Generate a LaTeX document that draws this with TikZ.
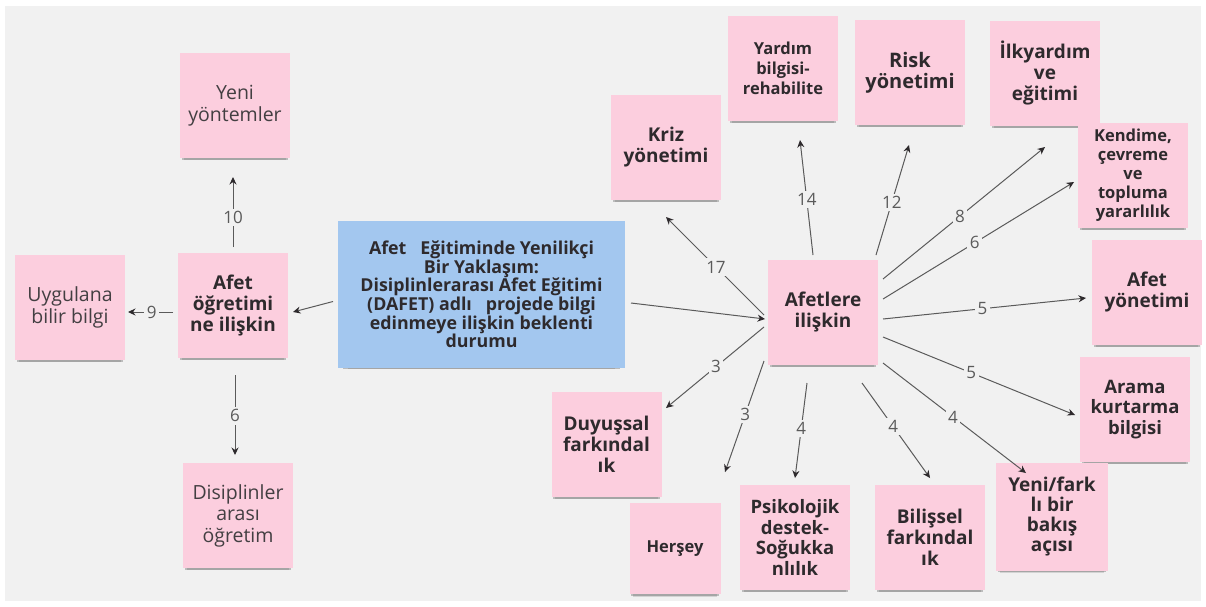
\documentclass[tikz,border=0pt]{standalone}
\usepackage{fontspec}
\setmainfont{Open Sans}
\usetikzlibrary{arrows.meta,calc,shadows,backgrounds}

\definecolor{canvas}{HTML}{F1F1F1}
\definecolor{notepink}{HTML}{FCCEDE}
\definecolor{noteblue}{HTML}{A3C7EF}
\definecolor{ink}{HTML}{2E2A2D}
\definecolor{wire}{HTML}{5A5A5A}

\tikzset{
  note/.style={fill=notepink, minimum width=110pt, minimum height=105pt,
    inner sep=0pt, align=center, text=ink,
    font=\bfseries\fontsize{19}{21}\selectfont,
    general shadow={shadow yshift=-4pt, shadow scale=.965, fill=black, opacity=.22},
    general shadow={shadow yshift=-6.5pt, shadow scale=.93, fill=black, opacity=.12}},
  plain/.style={note, font=\fontsize{19.5}{21.5}\selectfont, text=ink!90},
  small/.style={font=\bfseries\fontsize{16.5}{19}\selectfont},
  link/.style={draw=wire, line width=1pt,
    -{Stealth[length=7.5pt, width=7pt, color=ink]}},
  lbl/.style={fill=canvas, inner sep=2.5pt, text=wire,
    font=\fontsize{17}{17}\selectfont},
}

\begin{document}
\begin{tikzpicture}[x=1pt, y=-1pt]
\useasboundingbox (0,0) rectangle (1206,606);
\fill[white] (0,0) rectangle (1206,606);
\fill[canvas] (5,6) rectangle (1201,601);

% left cluster
\node[plain] (yeni) at (235,105.5) {Yeni\\yöntemler};
\node[note]  (afog) at (233,305.5) {Afet\\öğretimi\\ne ilişkin};
\node[plain] (uyg)  at (70,307.5)  {Uygulana\\bilir bilgi};
\node[plain] (dis)  at (238,515.5) {Disiplinler\\arası\\öğretim};

% central topic
\node[note, fill=noteblue, minimum width=287pt, minimum height=147pt,
      font=\bfseries\fontsize{17.8}{18.6}\selectfont] (topic) at (481.5,294.5)
  {Afet\ \ \ Eğitiminde Yenilikçi\\Bir Yaklaşım:\\Disiplinlerarası Afet Eğitimi\\
   (DAFET) adlı\ \ \ projede bilgi\\edinmeye ilişkin beklenti\\durumu};

% right cluster
\node[note] (afl)  at (823,312.5)  {Afetlere\\ilişkin};
\node[note] (kriz) at (666,147.5)  {Kriz\\yönetimi};
\node[note, font=\bfseries\fontsize{16.5}{20}\selectfont] (yard) at (783,68) {Yardım\\bilgisi-\\rehabilite};
\node[note, font=\bfseries\fontsize{20}{21}\selectfont] (risk) at (910,72.5) {Risk\\yönetimi};
\node[note] (ilk)  at (1045,73)    {İlkyardım\\ve\\eğitimi};
\node[note, small] (kend) at (1133,175) {Kendime,\\çevreme\\ve\\topluma\\yararlılık};
\node[note] (afy)  at (1147,292.5) {Afet\\yönetimi};
\node[note, font=\bfseries\fontsize{18.5}{20.5}\selectfont] (ara) at (1135,409.5) {Arama\\kurtarma\\bilgisi};
\node[note] (duy)  at (606.5,444.5) {Duyuşsal\\farkındal\\ık};
\node[note, minimum width=91pt, minimum height=91pt,
      font=\bfseries\fontsize{16.5}{18}\selectfont] (her) at (675,548.5) {Herşey};
\node[note, font=\bfseries\fontsize{18.5}{20.5}\selectfont] (psi) at (795,537.5) {Psikolojik\\destek-\\Soğukka\\nlılık};
\node[note] (bil)  at (930,537.5)  {Bilişsel\\farkındal\\ık};
\node[note, minimum width=112pt, minimum height=108pt,
      font=\bfseries\fontsize{19}{20.3}\selectfont] (yfb) at (1052,516.5) {Yeni/fark\\lı bir\\bakış\\açısı};

% connectors, left
\draw[link] ($(topic)+(-148.5,7)$) -- ($(afog)+(60,6.5)$);
\draw[link] ($(afog)+(0,-58.5)$) -- node[lbl, pos=.42]{10} ($(yeni)+(-2,71.5)$);
\draw[link] ($(afog)+(-60,6.5)$) -- node[lbl, pos=.47]{9} ($(uyg)+(58,4.5)$);
\draw[link] ($(afog)+(2,69.5)$) -- node[lbl, pos=.51]{6} ($(dis)+(-3,-60.5)$);

% connectors, right
\draw[link] ($(topic)+(149.5,8.5)$) -- ($(afl)+(-58,6.5)$);
\draw[link] ($(afl)+(-59,2.5)$)  -- node[lbl, pos=.49]{17} ($(kriz)+(0,69.5)$);
\draw[link] ($(afl)+(-10,-57.5)$) -- node[lbl, pos=.48]{14} ($(yard)+(17,72)$);
\draw[link] ($(afl)+(53,-57.5)$)  -- node[lbl, pos=.48]{12} ($(risk)+(-1,72.5)$);
\draw[link] ($(afl)+(60,-33.5)$)  -- node[lbl, pos=.475]{8} ($(ilk)+(0,74)$);
\draw[link] ($(afl)+(60,-13.5)$)  -- node[lbl, pos=.48]{6} ($(kend)+(-59,7)$);
\draw[link] ($(afl)+(60,6.5)$)    -- node[lbl, pos=.49]{5} ($(afy)+(-61,5.5)$);
\draw[link] ($(afl)+(60,24.5)$)   -- node[lbl, pos=.46]{5} ($(ara)+(-60,5.5)$);
\draw[link] ($(afl)+(60,50.5)$)   -- node[lbl, pos=.49]{4} ($(yfb)+(-26,-43.5)$);
\draw[link] ($(afl)+(39,70.5)$)   -- node[lbl, pos=.46]{4} ($(bil)+(0,-59.5)$);
\draw[link] ($(afl)+(-16,70.5)$)  -- node[lbl, pos=.48]{4} ($(psi)+(0,-59.5)$);
\draw[link] ($(afl)+(-59,48.5)$)  -- node[lbl, pos=.48]{3} ($(her)+(50,-76.5)$);
\draw[link] ($(afl)+(-59,14.5)$)  -- node[lbl, pos=.49]{3} ($(duy)+(59.5,-36.5)$);
\end{tikzpicture}
\end{document}
